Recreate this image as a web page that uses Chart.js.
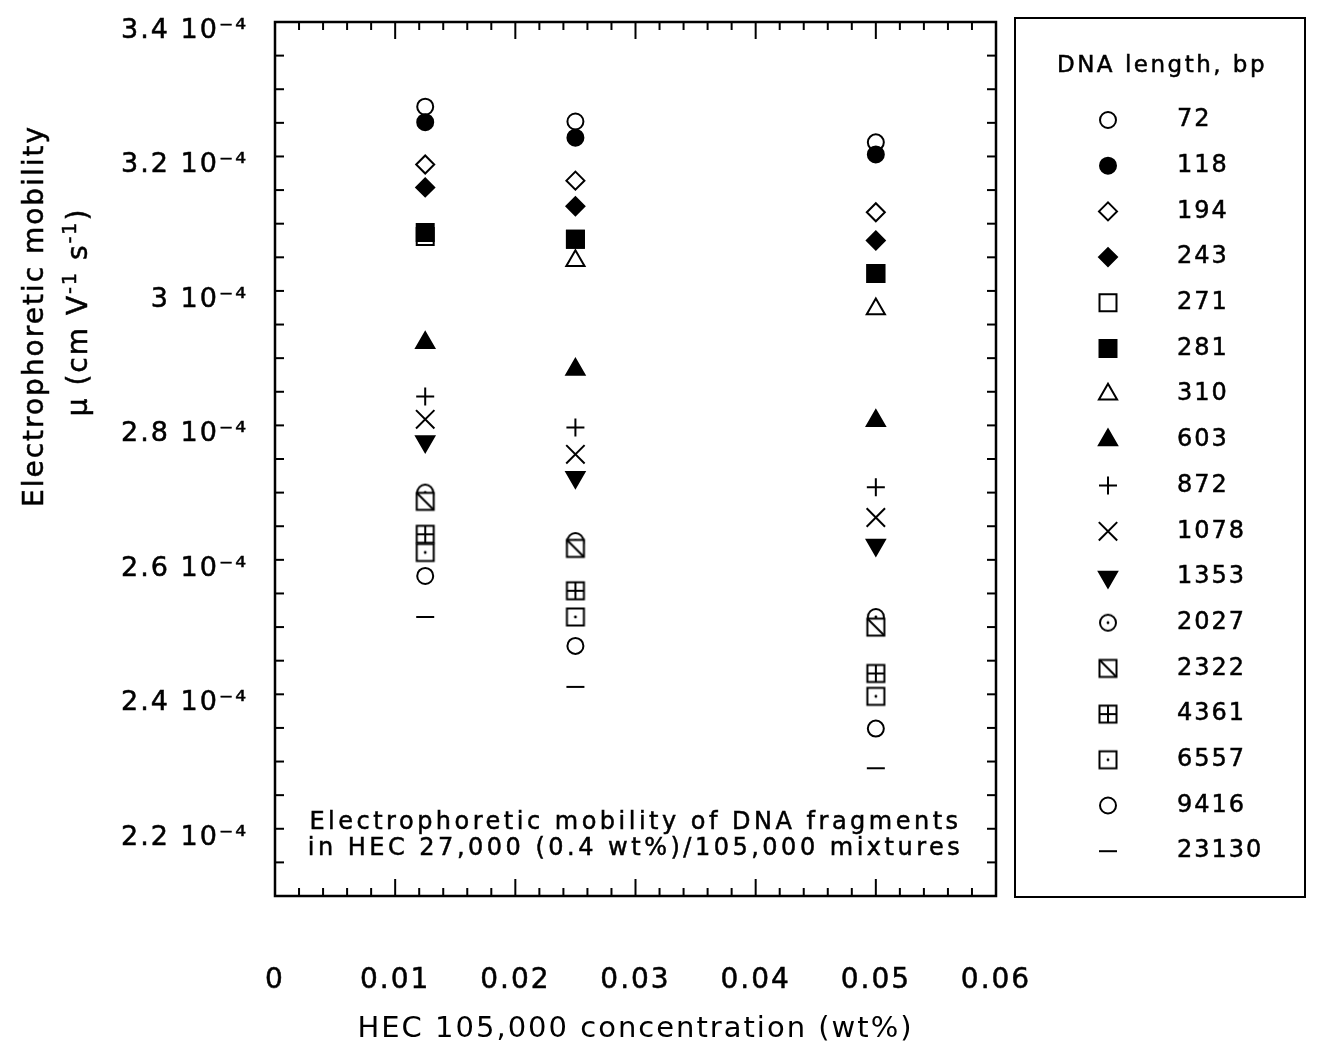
<!DOCTYPE html>
<html>
<head>
<meta charset="utf-8">
<script src="https://cdn.jsdelivr.net/npm/chart.js@4.4.1/dist/chart.umd.min.js"></script>
<style>
  body { margin: 0; background: #fff; }
  canvas { display: block; }
</style>
</head>
<body>
<canvas id="mobility" width="1318" height="1060"></canvas>
<script>
// HEC 105,000 concentration (wt%)
const concentrations = [0.0125, 0.025, 0.05];

// DNA length, bp
const lengths = ['72', '118', '194', '243', '271', '281', '310', '603', '872',
  '1078', '1353', '2027', '2322', '4361', '6557', '9416', '23130'];

// mobility in units of 10^-4 cm^2 V^-1 s^-1
const mob72 = [3.274, 3.252, 3.221];
const mob118 = [3.251, 3.228, 3.203];
const mob194 = [3.188, 3.164, 3.117];
const mob243 = [3.154, 3.126, 3.075];
const mob271 = [3.081, 3.077, 3.026];
const mob281 = [3.087, 3.077, 3.026];
const mob310 = [null, 3.045, 2.973];
const mob603 = [2.923, 2.883, 2.807];
const mob872 = [2.843, 2.797, 2.708];
const mob1078 = [2.809, 2.757, 2.663];
const mob1353 = [2.776, 2.723, 2.622];
const mob2027 = [2.700, 2.628, 2.515];
const mob2322 = [2.687, 2.617, 2.500];
const mob4361 = [2.638, 2.554, 2.431];
const mob6557 = [2.611, 2.515, 2.397];
const mob9416 = [2.576, 2.472, 2.349];
const mob23130 = [2.515, 2.411, 2.290];

const series = [mob72, mob118, mob194, mob243, mob271, mob281, mob310, mob603, mob872,
  mob1078, mob1353, mob2027, mob2322, mob4361, mob6557, mob9416, mob23130];

const xTickValues = [0, 0.01, 0.02, 0.03, 0.04, 0.05, 0.06];
const xTickLabels = ['0', '0.01', '0.02', '0.03', '0.04', '0.05', '0.06'];
const yTickValues = [2.2, 2.4, 2.6, 2.8, 3.0, 3.2, 3.4];
const yTickLabels = ['2.2 10⁻⁴', '2.4 10⁻⁴', '2.6 10⁻⁴', '2.8 10⁻⁴', '3 10⁻⁴', '3.2 10⁻⁴', '3.4 10⁻⁴'];

const FONT = '"DejaVu Sans", sans-serif';

// small canvases for the symbols Chart.js does not have
function makeMarker(kind) {
  const c = document.createElement('canvas');
  c.width = 24;
  c.height = 24;
  const g = c.getContext('2d');
  g.fillStyle = '#fff';
  g.strokeStyle = '#000';
  g.lineWidth = 2;
  if (kind === 'dotCircle') {
    g.beginPath();
    g.arc(12, 12, 8, 0, Math.PI * 2);
    g.fill();
    g.stroke();
  } else {
    g.fillRect(3.5, 3.5, 17, 17);
    g.strokeRect(3.5, 3.5, 17, 17);
    g.beginPath();
    if (kind === 'slashSquare') {
      g.moveTo(3.5, 3.5);
      g.lineTo(20.5, 20.5);
    }
    if (kind === 'gridSquare') {
      g.moveTo(12, 3.5);
      g.lineTo(12, 20.5);
      g.moveTo(3.5, 12);
      g.lineTo(20.5, 12);
    }
    g.stroke();
  }
  if (kind === 'dotCircle' || kind === 'dotSquare') {
    g.fillStyle = '#000';
    g.beginPath();
    g.arc(12, 12, 1.4, 0, Math.PI * 2);
    g.fill();
  }
  return c;
}

const markers = [
  { style: 'circle', radius: 8, fill: '#fff' },
  { style: 'circle', radius: 8, fill: '#000' },
  { style: 'rectRot', radius: 9, fill: '#fff' },
  { style: 'rectRot', radius: 9, fill: '#000' },
  { style: 'rect', radius: 12, fill: '#fff' },
  { style: 'rect', radius: 12, fill: '#000' },
  { style: 'triangle', radius: 10.5, fill: '#fff' },
  { style: 'triangle', radius: 10.5, fill: '#000' },
  { style: 'cross', radius: 9, fill: '#000' },
  { style: 'crossRot', radius: 13, fill: '#000' },
  { style: 'triangle', radius: 10.5, fill: '#000', rotation: 180 },
  { style: makeMarker('dotCircle'), radius: 9, fill: '#fff' },
  { style: makeMarker('slashSquare'), radius: 9, fill: '#fff' },
  { style: makeMarker('gridSquare'), radius: 9, fill: '#fff' },
  { style: makeMarker('dotSquare'), radius: 9, fill: '#fff' },
  { style: 'circle', radius: 8, fill: '#fff' },
  { style: 'line', radius: 9, fill: '#000' }
];

const datasets = lengths.map((len, i) => ({
  label: len,
  data: concentrations.map((c, j) => ({ x: c, y: series[i][j] })),
  showLine: false,
  pointStyle: markers[i].style,
  pointRadius: markers[i].radius,
  pointHoverRadius: markers[i].radius,
  pointRotation: markers[i].rotation || 0,
  backgroundColor: markers[i].fill,
  borderColor: '#000',
  borderWidth: 2,
  order: lengths.length - i
}));

function line(ctx, x1, y1, x2, y2) {
  ctx.beginPath();
  ctx.moveTo(x1, y1);
  ctx.lineTo(x2, y2);
  ctx.stroke();
}

function text(ctx, t, x, y) {
  ctx.fillText(t, x, y);
  ctx.strokeText(t, x, y);
}

// text with raised pieces, centred on x, baseline y
function drawRuns(ctx, runs, x, y, size, supSize, raise) {
  ctx.textAlign = 'left';
  ctx.textBaseline = 'alphabetic';
  let total = 0;
  runs.forEach(r => {
    ctx.font = (r.sup ? supSize : size) + 'px ' + FONT;
    r.w = ctx.measureText(r.t).width;
    total += r.w;
  });
  let cx = x - total / 2;
  runs.forEach(r => {
    ctx.font = (r.sup ? supSize : size) + 'px ' + FONT;
    text(ctx, r.t, cx, r.sup ? y - raise : y);
    cx += r.w;
  });
}

const spacing = {
  id: 'spacing',
  beforeLayout(chart) { chart.ctx.letterSpacing = '2px'; },
  beforeDraw(chart) { chart.ctx.letterSpacing = '2px'; }
};

const decorations = {
  id: 'decorations',
  afterDraw(chart) {
    const ctx = chart.ctx;
    const { left, right, top, bottom } = chart.chartArea;
    const xs = chart.scales.x;
    const ys = chart.scales.y;
    ctx.save();
    ctx.strokeStyle = '#000';
    ctx.fillStyle = '#000';

    // frame
    ctx.lineWidth = 2.5;
    ctx.strokeRect(left, top, right - left, bottom - top);

    // inward ticks
    ctx.lineWidth = 2;
    for (let i = 0; i <= 30; i++) {
      const px = xs.getPixelForValue(i * 0.002);
      const len = i % 5 === 0 ? 17 : 8;
      line(ctx, px, top, px, top + len);
      line(ctx, px, bottom, px, bottom - len);
    }
    for (let i = 0; i <= 26; i++) {
      const py = ys.getPixelForValue(2.1 + i * 0.05);
      line(ctx, left, py, left + 9, py);
      line(ctx, right, py, right - 9, py);
    }

    // caption inside the plot
    ctx.lineWidth = 0.5;
    ctx.letterSpacing = '3.5px';
    ctx.font = '24px ' + FONT;
    ctx.textAlign = 'center';
    ctx.textBaseline = 'middle';
    text(ctx, 'Electrophoretic mobility of DNA fragments', (left + right) / 2, 823);
    text(ctx, 'in HEC 27,000 (0.4 wt%)/105,000 mixtures', (left + right) / 2, 849);

    // y axis title
    ctx.letterSpacing = '2px';
    ctx.save();
    ctx.translate(43, 316);
    ctx.rotate(-Math.PI / 2);
    drawRuns(ctx, [{ t: 'Electrophoretic mobility' }], 0, 0, 28, 19, 11);
    ctx.restore();
    ctx.save();
    ctx.translate(87, 312);
    ctx.rotate(-Math.PI / 2);
    drawRuns(ctx, [
      { t: 'μ (cm V' }, { t: '-1', sup: true }, { t: ' s' }, { t: '-1', sup: true }, { t: ')' }
    ], 0, 0, 28, 19, 11);
    ctx.restore();

    // legend box
    ctx.lineWidth = 2;
    ctx.strokeRect(1015, 18, 290, 879);
    ctx.lineWidth = 0.5;
    ctx.letterSpacing = '2.5px';
    ctx.font = '23px ' + FONT;
    ctx.textAlign = 'center';
    ctx.textBaseline = 'middle';
    text(ctx, 'DNA length, bp', 1162, 66);
    ctx.letterSpacing = '2px';
    ctx.font = '24px ' + FONT;
    ctx.textAlign = 'left';
    chart.data.datasets.forEach((ds, i) => {
      const y = 120 + i * 45.7;
      ctx.save();
      ctx.fillStyle = ds.backgroundColor;
      ctx.strokeStyle = '#000';
      ctx.lineWidth = 2;
      Chart.helpers.drawPoint(ctx, {
        pointStyle: ds.pointStyle,
        radius: ds.pointRadius,
        rotation: ds.pointRotation,
        borderWidth: 2
      }, 1108, y);
      ctx.restore();
      text(ctx, ds.label, 1177, y);
    });
    ctx.restore();
  }
};

new Chart(document.getElementById('mobility').getContext('2d'), {
  type: 'scatter',
  data: { datasets },
  options: {
    responsive: false,
    animation: false,
    events: [],
    layout: { padding: { top: 22, right: 322, bottom: 0, left: 0 } },
    plugins: {
      legend: { display: false },
      tooltip: { enabled: false }
    },
    scales: {
      x: {
        type: 'linear',
        min: 0,
        max: 0.06,
        afterBuildTicks: s => { s.ticks = xTickValues.map(v => ({ value: v })); },
        afterFit: s => { s.height = 164; s.paddingLeft = 0; s.paddingRight = 0; },
        grid: { display: false, drawTicks: false },
        border: { display: false },
        ticks: {
          callback: (v, i) => xTickLabels[i],
          padding: 68,
          color: '#000',
          textStrokeColor: '#000',
          textStrokeWidth: 0.5,
          font: { family: FONT, size: 28 },
          maxRotation: 0,
          minRotation: 0,
          autoSkip: false
        },
        title: {
          display: true,
          text: 'HEC 105,000 concentration (wt%)',
          color: '#000',
          font: { family: FONT, size: 29 },
          padding: { top: 0, bottom: 13 }
        }
      },
      y: {
        type: 'linear',
        min: 2.1,
        max: 3.4,
        afterBuildTicks: s => { s.ticks = yTickValues.map(v => ({ value: v })); },
        afterFit: s => { s.width = 275; s.paddingTop = 0; s.paddingBottom = 0; },
        grid: { display: false, drawTicks: false },
        border: { display: false },
        ticks: {
          callback: (v, i) => yTickLabels[i],
          padding: 27,
          labelOffset: 9,
          color: '#000',
          textStrokeColor: '#000',
          textStrokeWidth: 0.5,
          font: { family: FONT, size: 27 },
          autoSkip: false
        }
      }
    }
  },
  plugins: [spacing, decorations]
});
</script>
</body>
</html>
